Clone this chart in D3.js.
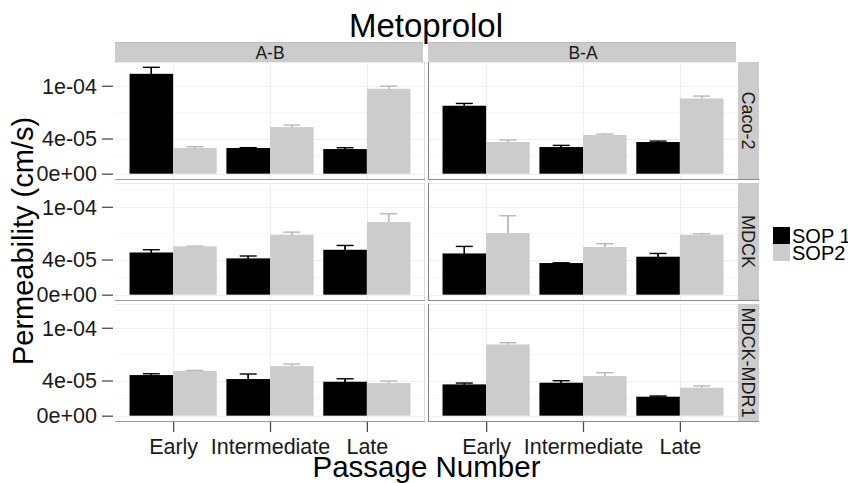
<!DOCTYPE html>
<html>
<head>
<meta charset="utf-8">
<script src="https://cdn.jsdelivr.net/npm/d3@7"></script>
<style>
  body { margin: 0; background: #fff; }
  svg { display: block; font-family: "Liberation Sans", Arial, sans-serif; }
</style>
</head>
<body>
<svg id="chart" width="848" height="483"></svg>
<script>
// categories
const directions = ["A-B", "B-A"];
const cellLines = ["Caco-2", "MDCK", "MDCK-MDR1"];
const passages = ["Early", "Intermediate", "Late"];
const sops = ["SOP 1", "SOP2"];

// mean permeability (cm/s), one array per cell line / direction / SOP
const caco2_AB_sop1 = [113.6e-6, 29.2e-6, 28.0e-6];
const caco2_AB_sop2 = [29.2e-6, 53.0e-6, 96.6e-6];
const caco2_BA_sop1 = [77.3e-6, 30.3e-6, 36.0e-6];
const caco2_BA_sop2 = [36.0e-6, 44.0e-6, 85.6e-6];
const mdck_AB_sop1 = [48.0e-6, 41.3e-6, 51.1e-6];
const mdck_AB_sop2 = [54.9e-6, 68.2e-6, 82.6e-6];
const mdck_BA_sop1 = [46.9e-6, 36.0e-6, 43.2e-6];
const mdck_BA_sop2 = [70.1e-6, 54.2e-6, 68.2e-6];
const mdr1_AB_sop1 = [46.2e-6, 41.7e-6, 38.6e-6];
const mdr1_AB_sop2 = [50.8e-6, 56.4e-6, 37.1e-6];
const mdr1_BA_sop1 = [35.6e-6, 37.5e-6, 21.6e-6];
const mdr1_BA_sop2 = [81.0e-6, 45.1e-6, 31.8e-6];

// error (SD) for each of the above
const caco2_AB_sop1_sd = [7.4e-6, 0.4e-6, 1.5e-6];
const caco2_AB_sop2_sd = [1.5e-6, 2.3e-6, 3.0e-6];
const caco2_BA_sop1_sd = [2.6e-6, 1.9e-6, 1.1e-6];
const caco2_BA_sop2_sd = [2.3e-6, 1.1e-6, 2.7e-6];
const mdck_AB_sop1_sd = [3.1e-6, 2.7e-6, 4.9e-6];
const mdck_AB_sop2_sd = [0.3e-6, 3.0e-6, 9.4e-6];
const mdck_BA_sop1_sd = [8.0e-6, 0.2e-6, 3.7e-6];
const mdck_BA_sop2_sd = [19.7e-6, 3.8e-6, 1.1e-6];
const mdr1_AB_sop1_sd = [1.5e-6, 5.7e-6, 3.4e-6];
const mdr1_AB_sop2_sd = [0.7e-6, 2.3e-6, 2.3e-6];
const mdr1_BA_sop1_sd = [1.5e-6, 2.3e-6, 0.8e-6];
const mdr1_BA_sop2_sd = [2.0e-6, 3.8e-6, 2.0e-6];

// y axis breaks and labels
const yTicks = [0, 4e-5, 1e-4];
const yTickLabels = ["0e+00", "4e-05", "1e-04"];
const yMinor = [2e-5, 7e-5, 1.2e-4];

const means = [
  [[caco2_AB_sop1, caco2_AB_sop2], [caco2_BA_sop1, caco2_BA_sop2]],
  [[mdck_AB_sop1, mdck_AB_sop2], [mdck_BA_sop1, mdck_BA_sop2]],
  [[mdr1_AB_sop1, mdr1_AB_sop2], [mdr1_BA_sop1, mdr1_BA_sop2]]
];
const sds = [
  [[caco2_AB_sop1_sd, caco2_AB_sop2_sd], [caco2_BA_sop1_sd, caco2_BA_sop2_sd]],
  [[mdck_AB_sop1_sd, mdck_AB_sop2_sd], [mdck_BA_sop1_sd, mdck_BA_sop2_sd]],
  [[mdr1_AB_sop1_sd, mdr1_AB_sop2_sd], [mdr1_BA_sop1_sd, mdr1_BA_sop2_sd]]
];

const fills = ["#000000", "#cccccc"];
const errColors = ["#000000", "#b8b8b8"];

const svg = d3.select("#chart");
const panelW = 310, panelH = 117;
const colX = [115, 428];
const rowY = [62, 183, 304];

// common y scale, ggplot style 5% expansion around [0, max]
let yMax = 0;
means.forEach((r, i) => r.forEach((c, j) => c.forEach((s, k) => s.forEach((v, p) => {
  yMax = Math.max(yMax, v + sds[i][j][k][p]);
}))));
const y = d3.scaleLinear().domain([-0.05 * yMax, 1.05 * yMax]).range([panelH, 0]);
const x = d3.scalePoint().domain(passages).range([0, panelW]).padding(0.6);
const half = x.step() * 0.45;

// title
svg.append("text")
  .attr("x", 426).attr("y", 37)
  .attr("text-anchor", "middle")
  .style("font-size", "33px")
  .text("Metoprolol");

// top strips
directions.forEach((d, j) => {
  svg.append("rect")
    .attr("x", colX[j]).attr("y", 42)
    .attr("width", panelW - 2).attr("height", 20)
    .attr("fill", "#cccccc");
  svg.append("line")
    .attr("x1", colX[j]).attr("x2", colX[j] + panelW - 2)
    .attr("y1", 42.5).attr("y2", 42.5)
    .attr("stroke", "#bdbdbd");
  svg.append("text")
    .attr("x", colX[j] + panelW / 2).attr("y", 59)
    .attr("text-anchor", "middle")
    .style("font-size", "17.5px")
    .attr("fill", "#1a1a1a")
    .text(d);
});

// right strips
cellLines.forEach((c, i) => {
  svg.append("rect")
    .attr("x", 738).attr("y", rowY[i])
    .attr("width", 21).attr("height", panelH)
    .attr("fill", "#cccccc");
  svg.append("line")
    .attr("x1", 737.5).attr("x2", 737.5)
    .attr("y1", rowY[i]).attr("y2", rowY[i] + panelH)
    .attr("stroke", "#7f7f7f");
  svg.append("text")
    .attr("transform", `translate(742,${rowY[i] + panelH / 2}) rotate(90)`)
    .attr("text-anchor", "middle")
    .style("font-size", "18px")
    .attr("fill", "#1a1a1a")
    .text(c);
});

// panels
cellLines.forEach((c, i) => {
  directions.forEach((d, j) => {
    const g = svg.append("g").attr("transform", `translate(${colX[j]},${rowY[i]})`);

    g.append("rect").attr("width", panelW).attr("height", panelH).attr("fill", "#fff");

    g.selectAll(".minor").data(yMinor).enter().append("line")
      .attr("x1", 0).attr("x2", panelW)
      .attr("y1", v => Math.round(y(v)) + 0.5).attr("y2", v => Math.round(y(v)) + 0.5)
      .attr("stroke", "#f7f7f7");
    g.selectAll(".major").data(yTicks).enter().append("line")
      .attr("x1", 0).attr("x2", panelW)
      .attr("y1", v => Math.round(y(v)) + 0.5).attr("y2", v => Math.round(y(v)) + 0.5)
      .attr("stroke", "#f0f0f0");
    g.selectAll(".vgrid").data(passages).enter().append("line")
      .attr("x1", p => Math.round(x(p)) + 0.5).attr("x2", p => Math.round(x(p)) + 0.5)
      .attr("y1", 0).attr("y2", panelH)
      .attr("stroke", "#eeeeee");

    sops.forEach((s, k) => {
      const vals = means[i][j][k];
      const err = sds[i][j][k];
      const x0 = p => x(p) + (k === 0 ? -half : 0);

      // error bars first so the bar hides the lower half
      const eb = g.append("g").attr("stroke", errColors[k]).attr("stroke-width", 1.4).attr("fill", "none");
      passages.forEach((p, n) => {
        const cx = x0(p) + half / 2;
        const top = y(vals[n] + err[n]);
        const bot = y(vals[n] - err[n]);
        eb.append("line").attr("x1", cx).attr("x2", cx).attr("y1", top).attr("y2", bot);
        eb.append("line").attr("x1", cx - 8.5).attr("x2", cx + 8.5).attr("y1", top).attr("y2", top);
        eb.append("line").attr("x1", cx - 8.5).attr("x2", cx + 8.5).attr("y1", bot).attr("y2", bot);
      });

      g.selectAll(".bar" + k).data(vals).enter().append("rect")
        .attr("x", (v, n) => x0(passages[n]))
        .attr("width", half)
        .attr("y", v => y(v))
        .attr("height", v => y(0) - y(v))
        .attr("fill", fills[k]);

      // show the upper whisker above the bar
      passages.forEach((p, n) => {
        const cx = x0(p) + half / 2;
        const top = y(vals[n] + err[n]);
        g.append("line").attr("x1", cx).attr("x2", cx)
          .attr("y1", top).attr("y2", y(vals[n]))
          .attr("stroke", errColors[k]).attr("stroke-width", 1.4);
      });
    });

    // borders
    g.append("line").attr("x1", 0).attr("x2", panelW).attr("y1", 0.5).attr("y2", 0.5).attr("stroke", "#ececec");
    if (j === 0) {
      g.append("line").attr("x1", panelW - 0.5).attr("x2", panelW - 0.5).attr("y1", 0).attr("y2", panelH).attr("stroke", "#dcdcdc");
    } else {
      g.append("line").attr("x1", 0.5).attr("x2", 0.5).attr("y1", 0).attr("y2", panelH + 1).attr("stroke", "#8c8c8c").attr("stroke-width", 1.2);
    }
    g.append("line").attr("x1", 0).attr("x2", panelW + (j === 1 ? 21 : 0))
      .attr("y1", panelH + 0.5).attr("y2", panelH + 0.5)
      .attr("stroke", j === 0 ? "#9a9a9a" : "#8c8c8c").attr("stroke-width", 1.2);

    // y axis for left column
    if (j === 0) {
      const ax = svg.append("g")
        .attr("transform", `translate(113,${rowY[i]})`)
        .call(d3.axisLeft(y).tickValues(yTicks).tickFormat((v, n) => yTickLabels[n]).tickSize(11).tickPadding(5));
      ax.select(".domain").remove();
      ax.selectAll(".tick line").attr("stroke", "#4d4d4d").attr("stroke-width", 1.3);
      ax.selectAll(".tick text").style("font-size", "21.5px").style("font-family", "Liberation Sans, Arial, sans-serif")
        .attr("fill", "#1a1a1a").attr("dy", "0.34em");
    }

    // x axis for bottom row
    if (i === 2) {
      const ax = svg.append("g")
        .attr("transform", `translate(${colX[j]},${rowY[i] + panelH + 1})`)
        .call(d3.axisBottom(x).tickSize(10).tickPadding(7));
      ax.select(".domain").remove();
      ax.selectAll(".tick line").attr("stroke", "#4d4d4d").attr("stroke-width", 1.3);
      ax.selectAll(".tick text").style("font-size", "21.5px").style("font-family", "Liberation Sans, Arial, sans-serif")
        .attr("fill", "#1a1a1a");
    }
  });
});

// axis titles
svg.append("text")
  .attr("transform", "translate(33,241) rotate(-90)")
  .attr("text-anchor", "middle")
  .style("font-size", "29px")
  .text("Permeability (cm/s)");

svg.append("text")
  .attr("x", 426.5).attr("y", 477)
  .attr("text-anchor", "middle")
  .style("font-size", "29.5px")
  .text("Passage Number");

// legend
const legend = svg.append("g").attr("transform", "translate(773,227)");
sops.forEach((s, k) => {
  legend.append("rect")
    .attr("x", 0).attr("y", k * 17)
    .attr("width", 17).attr("height", 17)
    .attr("fill", fills[k]);
  legend.append("text")
    .attr("x", 19).attr("y", k * 17 + 15.5)
    .style("font-size", "20px")
    .text(s);
});
</script>
</body>
</html>
